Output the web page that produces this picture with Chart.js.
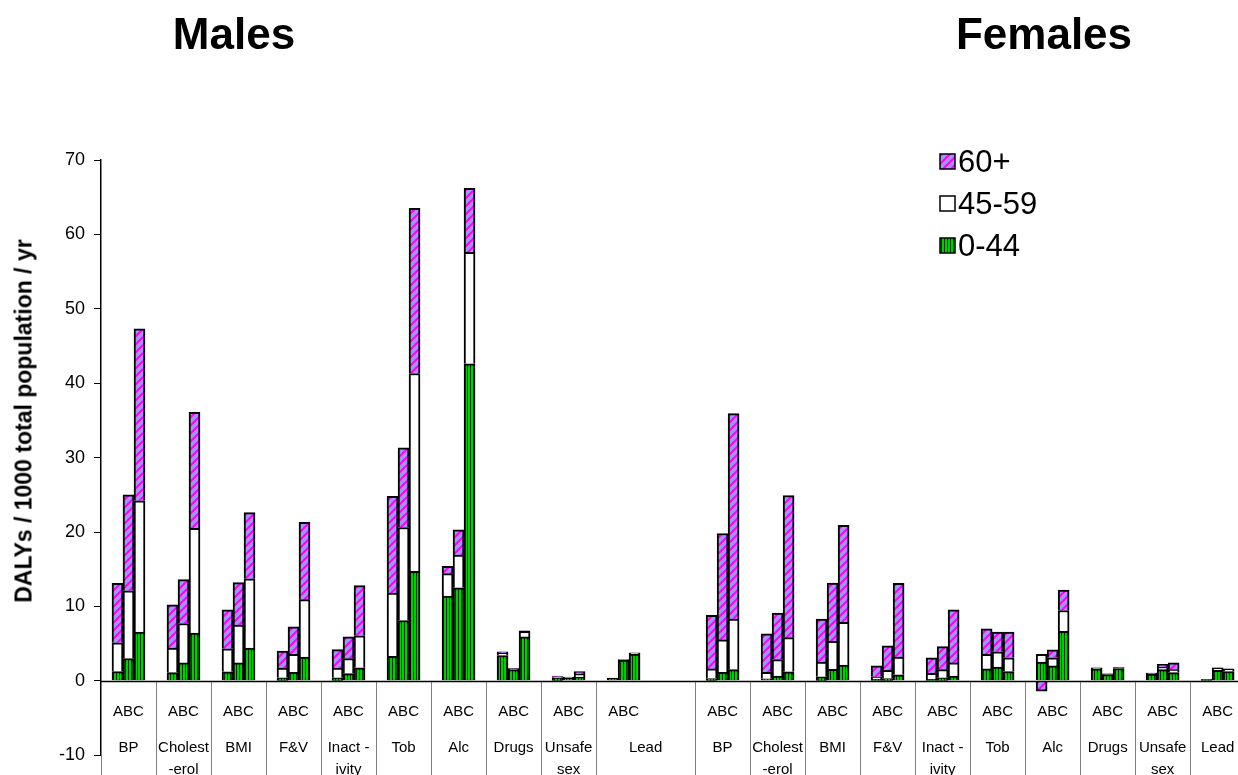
<!DOCTYPE html>
<html>
<head>
<meta charset="utf-8">
<script src="https://cdn.jsdelivr.net/npm/chart.js@4.4.1/dist/chart.umd.min.js"></script>
<style>
body{margin:0;background:#fff;overflow:hidden}
#wrap{position:relative;width:1238px;height:775px}
canvas{position:absolute;left:0;top:0}
.ttl{position:absolute;top:9px;transform:translateX(-50%);font:bold 44px "Liberation Sans",Arial,sans-serif;color:#000;white-space:nowrap}
#ytitle{position:absolute;left:24px;top:421px;transform:translate(-50%,-50%) rotate(-90deg);white-space:nowrap;font:bold 23px "Liberation Sans",Arial,sans-serif;color:#000}
</style>
</head>
<body>
<div id="wrap">
<canvas id="c" width="1238" height="775"></canvas>
<div class="ttl" style="left:234px">Males</div>
<div class="ttl" style="left:1044px">Females</div>
<div id="ytitle">DALYs / 1000 total population / yr</div>
</div>
<script>
// risk factors (same for both sexes), multi-line where the table wraps
const factors = ["BP", ["Cholest","-erol"], "BMI", "F&V", ["Inact -","ivity"], "Tob", "Alc", "Drugs", ["Unsafe","sex"], "Lead"];
const scenarios = ["A","B","C"];
const ageGroups = ["0-44","45-59","60+"];

// males, DALYs / 1000 / yr per age group
const maleA0_44  = [1.25,1.1,1.2,0.4,0.4,3.3,11.4,3.4,0.4,0.35];
const maleA45_59 = [3.85,3.3,3.1,1.3,1.3,8.5,3.0,0.3,0.15,0];
const maleA60    = [8.0,5.8,5.25,2.3,2.5,13.0,1.0,0.2,0.1,0];
const maleB0_44  = [3.0,2.4,2.4,1.15,0.97,8.1,12.5,1.5,0.35,2.8];
const maleB45_59 = [9.1,5.3,5.1,2.4,2.0,12.5,4.4,0.1,0.1,0.05];
const maleB60    = [12.9,5.9,5.7,3.7,2.95,10.7,3.4,0.05,0.05,0];
const maleC0_44  = [6.55,6.4,4.4,3.2,1.75,14.7,42.6,5.9,0.5,3.6];
const maleC45_59 = [17.65,14.1,9.3,7.7,4.3,26.6,15.0,0.75,0.4,0.15];
const maleC60    = [23.1,15.6,8.9,10.4,6.75,22.2,8.6,0.05,0.35,0];

// females
const femA0_44  = [0.3,0.28,0.55,0.2,0.2,1.6,2.5,1.6,0.9,0.15];
const femA45_59 = [1.3,0.87,1.95,0.35,0.8,1.95,1.05,0.1,0.1,0.05];
const femA60    = [7.2,5.15,5.8,1.45,2.1,3.45,-1.4,0.05,0.05,0];
const femB0_44  = [1.15,0.65,1.55,0.3,0.4,1.85,2.0,0.85,1.5,1.4];
const femB45_59 = [4.35,2.2,3.75,1.1,1.1,2.05,1.1,0.05,0.3,0.3];
const femB60    = [14.3,6.25,7.85,3.3,3.1,2.65,1.05,0.05,0.4,0.05];
const femC0_44  = [1.5,1.2,2.1,0.8,0.65,1.25,6.65,1.65,1.1,1.25];
const femC45_59 = [6.8,4.6,5.75,2.4,1.75,1.85,2.8,0.1,0.4,0.3];
const femC60    = [27.6,19.1,13.05,9.9,7.15,3.45,2.75,0.05,0.9,0.05];

const femaleStart = 10.8; // females placed after a short gap on the x scale

const male = {A:[maleA0_44,maleA45_59,maleA60],B:[maleB0_44,maleB45_59,maleB60],C:[maleC0_44,maleC45_59,maleC60]};
const fem  = {A:[femA0_44,femA45_59,femA60],B:[femB0_44,femB45_59,femB60],C:[femC0_44,femC45_59,femC60]};

const canvas=document.getElementById("c");
const ctx=canvas.getContext("2d");

/* fills */
function makePink(){
let t=document.createElement("canvas");t.width=8;t.height=8;
let g=t.getContext("2d");
g.fillStyle="#9999ff";g.fillRect(0,0,8,8);
g.strokeStyle="#ff00ff";g.lineWidth=2;
g.beginPath();
g.moveTo(-2,10);g.lineTo(10,-2);
g.moveTo(-2,2);g.lineTo(2,-2);
g.moveTo(6,10);g.lineTo(10,6);
g.stroke();
return ctx.createPattern(t,"repeat");
}
function makeGreen(){
let t=document.createElement("canvas");t.width=3;t.height=3;
let g=t.getContext("2d");
g.fillStyle="#00cc00";g.fillRect(0,0,3,3);
g.fillStyle="#003300";g.fillRect(2,0,1,3);
return ctx.createPattern(t,"repeat");
}
const pink=makePink(), green=makeGreen();
const fills=[green,"#ffffff",pink];

function pts(m,f){
return m.map((v,i)=>({x:i,y:v})).concat(f.map((v,i)=>({x:femaleStart+i,y:v})));
}

let datasets=[];
for(let a=0;a<3;a++){
scenarios.forEach(s=>{
datasets.push({
label:ageGroups[a]+" "+s,
stack:s,
data:pts(male[s][a],fem[s][a]),
backgroundColor:fills[a]
});
});
}

/* category table under the axis */
const tablePlugin={
id:"catTable",
beforeDatasetsDraw(chart){
const c=chart.ctx, x=chart.scales.x, y=chart.scales.y;
const y0=y.getPixelForValue(0), H=chart.height;
c.save();
c.strokeStyle="#808080";c.lineWidth=1;
let bounds=[];
for(let i=0;i<9;i++) bounds.push(i+0.5);
for(let i=0;i<=10;i++) bounds.push(femaleStart-0.5+i);
c.beginPath();
bounds.forEach(b=>{
let px=Math.round(x.getPixelForValue(b))+0.5;
c.moveTo(px,y0);c.lineTo(px,H);
});
let lx=Math.round(chart.chartArea.left)+0.5;
c.moveTo(lx,chart.chartArea.bottom);c.lineTo(lx,H);
c.stroke();

c.fillStyle="#000";
c.font='15px "Liberation Sans", Arial, sans-serif';
c.textAlign="center";c.textBaseline="middle";
function names(lab,cx){
let lines=Array.isArray(lab)?lab:[lab];
lines.forEach((t,k)=>c.fillText(t,cx,y0+67+k*22));
}
factors.forEach((f,i)=>{
let cm=x.getPixelForValue(i);
c.fillText(scenarios.join(""),cm,y0+31);
let cn=cm;
if(i==9) cn=(x.getPixelForValue(8.5)+x.getPixelForValue(femaleStart-0.5))/2;
names(f,cn);
let cf=x.getPixelForValue(femaleStart+i);
c.fillText(scenarios.join(""),cf,y0+31);
names(f,cf);
});
c.restore();
},
afterDatasetsDraw(chart){
const c=chart.ctx, y=chart.scales.y;
const y0=Math.round(y.getPixelForValue(0))+0.5;
c.save();
c.strokeStyle="#000";c.lineWidth=1.5;
c.beginPath();c.moveTo(chart.chartArea.left,y0);c.lineTo(chart.width,y0);c.stroke();
c.restore();
}
};

/* legend box top right */
const legendPlugin={
id:"boxLegend",
afterDraw(chart){
const c=chart.ctx;
const items=[[ageGroups[2],pink],[ageGroups[1],"#ffffff"],[ageGroups[0],green]];
c.save();
c.font='31px "Liberation Sans", Arial, sans-serif';
c.textBaseline="middle";c.textAlign="left";
items.forEach((it,k)=>{
let cy=162+k*42;
c.fillStyle=it[1];c.fillRect(940,cy-8,15,15);
c.strokeStyle="#000";c.lineWidth=1.5;c.strokeRect(940,cy-8,15,15);
c.fillStyle="#000";c.fillText(it[0],958,cy+1);
});
c.restore();
}
};

new Chart(canvas,{
type:"bar",
data:{datasets:datasets},
options:{
responsive:false,
animation:false,
devicePixelRatio:1,
layout:{padding:{top:160,bottom:15,left:0,right:0}},
plugins:{legend:{display:false},tooltip:{enabled:false}},
datasets:{bar:{barThickness:11,borderWidth:2,borderColor:"#000",borderSkipped:"start"}},
scales:{
x:{
type:"linear",display:false,offset:false,min:-0.5,max:20.17,
afterBuildTicks(s){s.ticks=[];for(let i=0;i<=20;i++)s.ticks.push({value:i});}
},
y:{
min:-10,max:70,stacked:true,
ticks:{stepSize:10,color:"#000",padding:9,font:{size:18,family:'"Liberation Sans", Arial, sans-serif'}},
grid:{drawOnChartArea:false,tickLength:7,color:"#000"},
border:{color:"#000",width:1.5},
afterFit(s){s.width=101;}
}
}
},
plugins:[tablePlugin,legendPlugin]
});
</script>
</body>
</html>
